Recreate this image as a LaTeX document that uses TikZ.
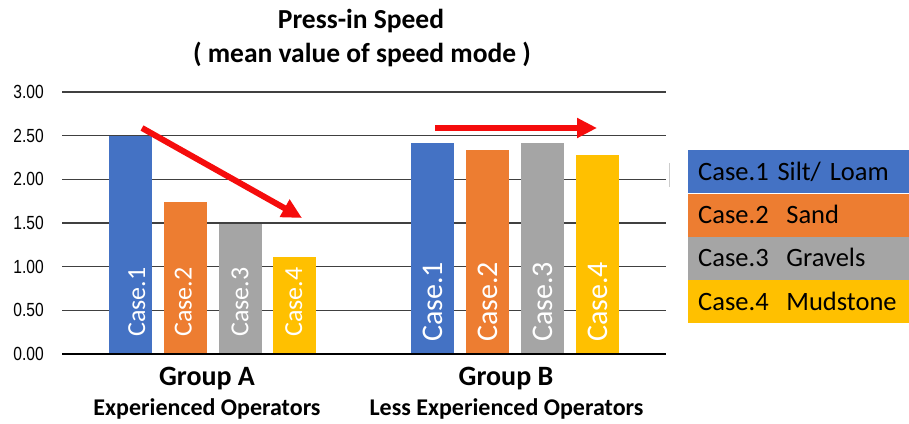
\documentclass[tikz,border=0pt]{standalone}
\usepackage{fontspec}
\setmainfont{Carlito}
\newfontfamily\ticksfont[FakeStretch=0.82]{Liberation Sans}
\usetikzlibrary{arrows.meta}
\definecolor{caseone}{HTML}{4472C4}
\definecolor{casetwo}{HTML}{ED7D31}
\definecolor{casethree}{HTML}{A5A5A5}
\definecolor{casefour}{HTML}{FFC000}
\definecolor{trendred}{HTML}{F50C0C}
\definecolor{gridgray}{HTML}{404040}

\begin{document}
\begin{tikzpicture}[x = 1pt, y = 1pt,
    bar/.style = {anchor = south west, inner sep = 0, minimum width = 43pt},
    barlabel/.style = {rotate = 90, anchor = base west, inner sep = 0, text = white},
    legendrow/.style = {anchor = north west, minimum width = 221pt, minimum height = 43pt, inner xsep = 10pt, inner ysep = 0,
      text width = 201pt, align = left, text height = 17pt, text depth = 0pt, font = \fontsize{26.5}{26.5}\selectfont},
    heading/.style = {anchor = base, font = \bfseries\fontsize{27.5}{27.5}\selectfont},
    trend/.style = {trendred, line width = 6pt, -{Triangle[length = 20pt, width = 19pt]}}
  ]

  \useasboundingbox (0,0) rectangle (909,423);

  % title
  \node [heading] (title) at (361,394) {Press-in Speed};
  \node [heading] (subtitle) at (362,360) {( mean value of speed mode )};

  \begin{scope}[shift = {(0,69)}, y = 87.3pt]
    \foreach \v/\t in {0/0.00, 0.5/0.50, 1/1.00, 1.5/1.50, 2/2.00, 2.5/2.50, 3/3.00} {
      \draw [gridgray, line width = 1.2pt] (62,\v) -- (666,\v);
      \node [anchor = east, inner sep = 0, font = \ticksfont\fontsize{19}{19}\selectfont] (tick\v) at (44,\v) {\t};
    }
    % group A
    \foreach \n/\v/\c/\o in {1/2.50/caseone/36, 2/1.74/casetwo/28, 3/1.49/casethree/30, 4/1.11/casefour/29} {
      \node [bar, fill = \c, minimum height = \v*87.3pt] (barA\n) at ({109+54.7*(\n-1)},0) {};
      \node [barlabel, font = \fontsize{26}{26}\selectfont] (caseA\n) at ([shift = {(\o pt,17pt)}] barA\n.south west) {Case.\n};
    }
    % group B
    \foreach \n/\v/\c in {1/2.42/caseone, 2/2.33/casetwo, 3/2.42/casethree, 4/2.28/casefour} {
      \node [bar, fill = \c, minimum height = \v*87.3pt] (barB\n) at ({411+55*(\n-1)},0) {};
      \node [barlabel, font = \fontsize{30}{30}\selectfont] (caseB\n) at ([shift = {(31pt,12pt)}] barB\n.south west) {Case.\n};
    }
    \draw [black, line width = 2.5pt] (62,0) -- (666,0);
  \end{scope}

  \draw [black!20, thin] (669,260) -- (669,236);

  % trend arrows
  \coordinate (trendAstart) at (142,295);
  \coordinate (trendAend) at (302,205);
  \coordinate (trendBstart) at (435,295);
  \coordinate (trendBend) at (597,295);
  \draw [trend] (trendAstart) -- (trendAend);
  \draw [trend] (trendBstart) -- (trendBend);

  % group labels
  \node [anchor = base, font = \bfseries\fontsize{28}{28}\selectfont] (groupA) at (207,38) {Group A};
  \node [anchor = base, font = \bfseries\fontsize{24}{24}\selectfont] (groupAsub) at (207,8) {Experienced Operators};
  \node [anchor = base, font = \bfseries\fontsize{28}{28}\selectfont] (groupB) at (506,38) {Group B};
  \node [anchor = base, font = \bfseries\fontsize{24}{24}\selectfont] (groupBsub) at (506.5,8) {Less Experienced Operators};

  % legend
  \node [legendrow, fill = caseone] (legend1) at (688,273) {Case.1 Silt/ Loam};
  \node [legendrow, fill = casetwo] (legend2) at (legend1.south west) {Case.2\ \ Sand};
  \node [legendrow, fill = casethree] (legend3) at (legend2.south west) {Case.3\ \ Gravels};
  \node [legendrow, fill = casefour] (legend4) at (legend3.south west) {Case.4\ \ Mudstone};

\end{tikzpicture}
\end{document}
